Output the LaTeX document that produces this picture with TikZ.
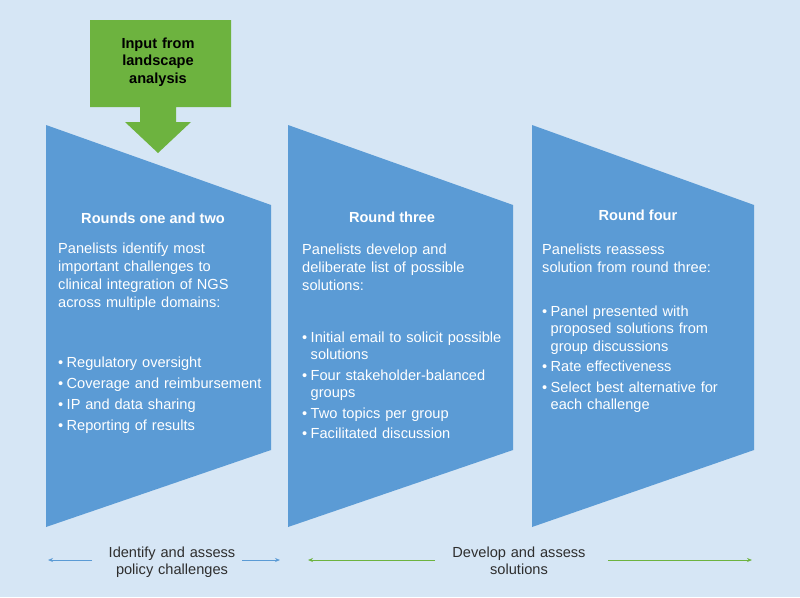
\documentclass[tikz,border=0pt]{standalone}
\usepackage{fontspec}
\setmainfont{Liberation Sans}

\definecolor{bgblue}{HTML}{D6E6F5}
\definecolor{panelblue}{HTML}{5B9BD5}
\definecolor{inputgreen}{HTML}{6DB33F}
\definecolor{labelgray}{HTML}{2E2E2E}

% bullet lines with hanging indent
\newcommand{\firstitem}[1]{\noindent\makebox[8.5pt][l]{\textbullet}\parbox[t]{\dimexpr\linewidth-8.5pt}{\raggedright #1\strut}}
\newcommand{\bulletitem}[1]{\par\prevdepth=\dp\strutbox\vspace{3pt}\firstitem{#1}}

\usetikzlibrary{arrows.meta}
\tikzset{
	panel/.style={fill=panelblue},
	ptitle/.style={text=white, font=\bfseries\fontsize{14.6}{18}\selectfont, inner sep=0, anchor=base},
	ptext/.style={text=white, font=\fontsize{14.6}{18}\selectfont, align=left, anchor=base west, inner sep=0, text width=#1},
	ptext/.default=215pt,
	steplabel/.style={text=labelgray, font=\fontsize{14.6}{17}\selectfont, align=center, anchor=base, inner sep=0, text width=#1},
	steplabel/.default=160pt,
	span/.style={-{Stealth[length=5pt,width=4pt]}, line width=0.9pt},
}

\begin{document}
\begin{tikzpicture}[x=1pt,y=-1pt]
%	background
	\fill[bgblue] (0,0) rectangle (800,597);
	\useasboundingbox (0,0) rectangle (800,597);
	
%	the three rounds
	\fill[panel] (46,125) -- (271,205) -- (271,450) -- (46,527) -- cycle;
	\fill[panel] (288,125) -- (513,205) -- (513,450) -- (288,527) -- cycle;
	\fill[panel] (532,125) -- (754,205) -- (754,450) -- (532,527) -- cycle;
	
%	input arrow
	\fill[inputgreen] (90,20) -- (231,20) -- (231,107) -- (176,107) -- (176,122) -- (191,122)
		-- (158,153) -- (125,122) -- (140,122) -- (140,107) -- (90,107) -- cycle;
	\node (input)[text=black, font=\bfseries\fontsize{14.6}{17.5}\selectfont, align=center, anchor=base, inner sep=0, text width=130pt] at (158,48) {Input from\\landscape\\analysis};
	
%	rounds one and two
	\node (r12)[ptitle] at (153,223) {Rounds one and two};
	\node (r12text)[ptext] at (58,253) {Panelists identify most\\important challenges to\\clinical integration of NGS\\across multiple domains:};
	\node (r12list)[ptext] at (58,367) {%
		\firstitem{Regulatory oversight}
		\bulletitem{Coverage and reimbursement}
		\bulletitem{IP and data sharing}
		\bulletitem{Reporting of results}};
	
%	round three
	\node (r3)[ptitle] at (392,222) {Round three};
	\node (r3text)[ptext] at (302,254) {Panelists develop and\\deliberate list of possible\\solutions:};
	\node (r3list)[ptext, font=\fontsize{14.6}{17.5}\selectfont] at (302,342) {%
		\firstitem{Initial email to solicit possible\\solutions}
		\bulletitem{Four stakeholder-balanced\\groups}
		\bulletitem{Two topics per group}
		\bulletitem{Facilitated discussion}};
	
%	round four
	\node (r4)[ptitle] at (638,220) {Round four};
	\node (r4text)[ptext] at (542,254) {Panelists reassess\\solution from round three:};
	\node (r4list)[ptext, font=\fontsize{14.6}{17.5}\selectfont] at (542,316) {%
		\firstitem{Panel presented with\\proposed solutions from\\group discussions}
		\bulletitem{Rate effectiveness}
		\bulletitem{Select best alternative for\\each challenge}};
	
%	phases at the bottom
	\node (identify)[steplabel] at (172,557) {Identify and assess\\policy challenges};
	\node (develop)[steplabel] at (519,557) {Develop and assess\\solutions};
	
	\coordinate (idA) at (92,560);
	\coordinate (idB) at (48,560);
	\coordinate (idC) at (242,560);
	\coordinate (idD) at (280,560);
	\coordinate (devA) at (435,560);
	\coordinate (devB) at (308,560);
	\coordinate (devC) at (608,560);
	\coordinate (devD) at (752,560);
	
	\draw[span, panelblue] (idA) -- (idB);
	\draw[span, panelblue] (idC) -- (idD);
	\draw[span, inputgreen] (devA) -- (devB);
	\draw[span, inputgreen] (devC) -- (devD);
	
\end{tikzpicture}
\end{document}
